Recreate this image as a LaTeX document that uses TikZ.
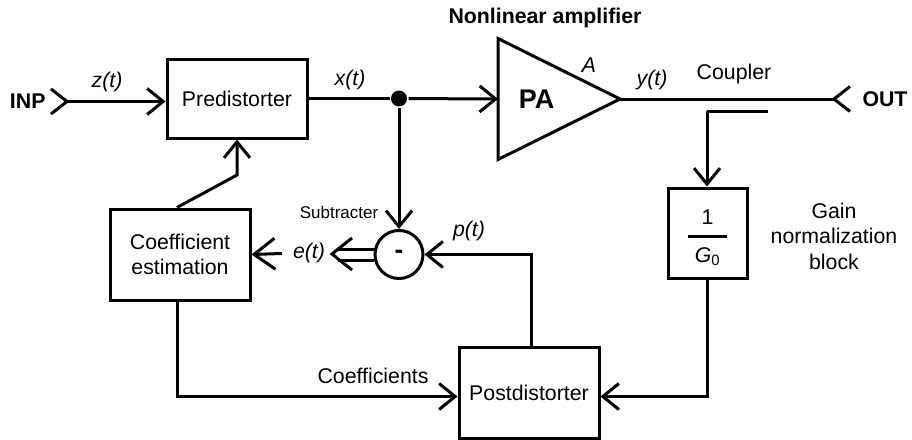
\documentclass[tikz,border=0pt]{standalone}
\usepackage{fontspec}
\setmainfont{Liberation Sans}
\usepackage{tikz}
\usetikzlibrary{shapes, arrows.meta, positioning}

\begin{document}
\begin{tikzpicture}[x=1pt, y=-1pt, line width=3pt, font=\fontsize{21.3}{25.5}\selectfont]
        % Define block styles
        \tikzstyle{blocknode} = [rectangle, draw, minimum width=140pt, inner sep=0pt, text centered]
        \tikzstyle{roundnode} = [circle, draw, fill=white, minimum size=48pt, inner sep=0pt]
        \tikzstyle{panode} = [isosceles triangle, isosceles triangle stretches, draw, minimum width=121pt, minimum height=122pt, inner sep=0pt, outer sep=0pt, anchor=lower side]
        \tikzstyle{dotnode} = [circle, fill=black, minimum size=16pt, inner sep=0pt]
        \tikzstyle{textnode} = [inner sep=0pt]
        \tikzstyle{line} = [draw, -{Straight Barb[length=16pt, width=26pt]}]
        \useasboundingbox (0,0) rectangle (912,439);

        % Define nodes
        \node [blocknode, minimum height=79pt] (predist) at (237,98.5) {Predistorter};
        \node [blocknode, minimum height=91pt, below=68pt of predist, xshift=-57pt, align=center] (coef) {Coefficient\\estimation};
        \node [roundnode, right=122pt of coef] (subtr) {\raisebox{-3pt}{\fontsize{26}{26}\selectfont\textbf{-}}};
        \node [dotnode] (dot) at (subtr |- predist) {};
        \node [panode] (pa) at (498,99) {\fontsize{27}{27}\selectfont\textbf{PA}};
        \node [blocknode, minimum height=91pt] (post) at (529,392.5) {Postdistorter};
        \node [blocknode, minimum width=79pt, minimum height=90pt, align=center] (gain) at (707.5,233) {\rule{0pt}{24pt}1\\[-12pt]\rule{39pt}{3pt}\\[-1pt]\textit{G}\textsubscript{0}};

        % Free ends
        \coordinate (inptip) at (67,101.5);
        \coordinate (outtip) at (834,99);
        \coordinate (bend) at (237,175);
        \coordinate (couplerend) at (768,111);
        \coordinate (couplerbend) at (707,111);
        \coordinate (etail) at (282,253.5);
        \coordinate (etip) at (332,254);

        % Labels
        \node [textnode, left=16pt of inptip, xshift=-4pt] (inp) {\textbf{INP}};
        \node [textnode, right=16pt of outtip, xshift=11pt] (out) {\textbf{OUT}};
        \node [textnode] (ztext) at (107,82) {\textit{z(t)}};
        \node [textnode] (xtext) at (350,80) {\textit{x(t)}};
        \node [textnode] (atext) at (589,65) {\textit{A}};
        \node [textnode] (ytext) at (652,80) {\textit{y(t)}};
        \node [textnode] (coupler) at (734,74) {Coupler};
        \node [textnode] (ampl) at (545,18) {\textbf{Nonlinear amplifier}};
        \node [textnode, font=\fontsize{17}{20}\selectfont] (subtext) at (339,212) {Subtracter};
        \node [textnode] (ptext) at (469,231) {\textit{p(t)}};
        \node [textnode] (etext) at (309,253) {\textit{e(t)}};
        \node [textnode] (coefs) at (373,376) {Coefficients};
        \node [textnode, align=center] (gaintext) at (834,236) {Gain\\normalization\\block};

        % Connect nodes with paths
        \path [line] (inptip) -- ([yshift=-3pt]predist.west);
        \draw ([shift={(-16pt,12.5pt)}]inptip) -- (inptip) -- ([shift={(-16pt,-12.5pt)}]inptip);
        \path [draw] (predist.east) -- (dot);
        \path [line] (dot) -- (pa.lower side);
        \path [draw] (pa.apex) -- (outtip);
        \draw ([shift={(16pt,12.5pt)}]outtip) -- (outtip) -- ([shift={(16pt,-12.5pt)}]outtip);
        \path [line] (dot) -- (subtr);
        \path [draw] (couplerend) -- (couplerbend);
        \path [line] (couplerbend) -- (couplerbend |- gain.north);
        \path [line] (gain.south) |- ([yshift=-4pt]post.east);
        \path [line] ([xshift=2pt]post.north) |- (subtr.east);
        \path [draw] ([yshift=5.5pt]subtr.west) -- ++(-36,0);
        \path [draw] ([yshift=-5.5pt]subtr.west) -- ++(-36,0);
        \draw ([shift={(20pt,16pt)}]etip) -- (etip) -- ([shift={(20pt,-16pt)}]etip);
        \path [line, -{Straight Barb[length=21pt, width=31pt]}] (etail) -- (coef.east);
        \path [line] ([xshift=-3pt]coef.south) |- ([yshift=-4pt]post.west);
        \path [line] ([xshift=-3pt]coef.north) -- (bend) -- (predist.south);

    \end{tikzpicture}
\end{document}
